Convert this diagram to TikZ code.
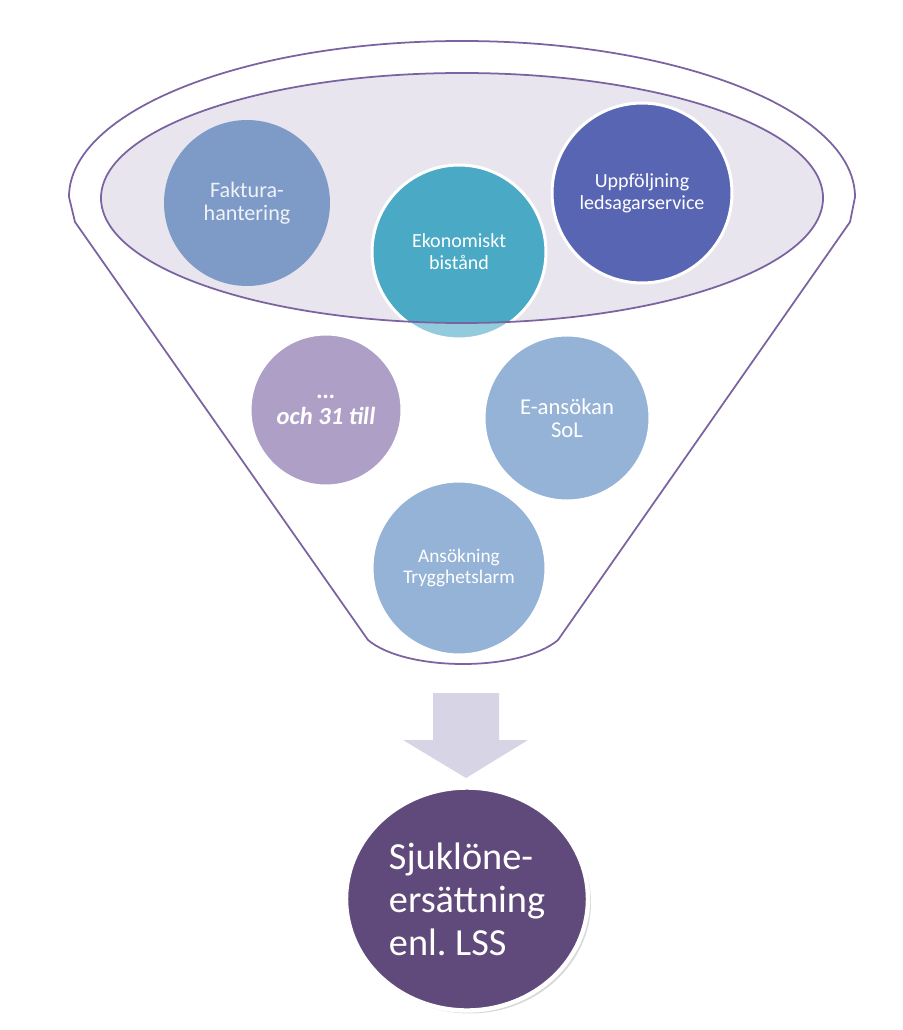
\documentclass[tikz,border=0pt]{standalone}
\usepackage{fontspec}
\setmainfont{Carlito}
\usetikzlibrary{shapes.geometric,shadows}
\definecolor{rimline}{HTML}{7A63A0}
\definecolor{rimfill}{HTML}{E8E5EE}
\definecolor{fakblue}{HTML}{7E9BC8}
\definecolor{ekoteal}{HTML}{4AAAC5}
\definecolor{uppblue}{HTML}{5865B3}
\definecolor{ochlilac}{HTML}{AE9FC7}
\definecolor{ansblue}{HTML}{95B3D7}
\definecolor{arrowgrey}{HTML}{D6D4E5}
\definecolor{lssviolet}{HTML}{604A7B}
\begin{document}
\begin{tikzpicture}[x=0.02cm, y=-0.02cm,
    bubble/.style={circle, draw=white, line width=1.7pt, text=white, align=center,
      inner sep=0pt, font=\fontsize{11.4}{12.5}\selectfont},
    rim/.style={draw=rimline, line width=1pt}]
  \useasboundingbox (0,0) rectangle (902,1030);
  % Draw the inner opening of the funnel
  \fill[rimfill] (462,198) ellipse[x radius=361, y radius=125];
  % Draw the funnel body
  \draw[rim] (75,222) -- (69,197) arc[start angle=180, end angle=360, x radius=393, y radius=156]
    -- (850,222) -- (558,640) .. controls (520,672) and (406,672) .. (368,640) -- cycle;
  % Place the circles
  \node[bubble, draw=none, fill=fakblue, text=white!88!fakblue, minimum size=3.32cm,
    font=\fontsize{12.6}{13.2}\selectfont] (fak) at (247,203) {Faktura-\\hantering};
  \node[bubble, fill=ekoteal, minimum size=3.48cm] (eko) at (459,252) {Ekonomiskt\\bistånd};
  \node[bubble, fill=uppblue, minimum size=3.6cm] (upp) at (642,193) {Uppföljning\\ledsagarservice};
  \node[bubble, fill=ochlilac, minimum size=3.04cm, font=\fontsize{14}{15}\selectfont\bfseries\itshape] (och) at (326,410) {…\\och 31 till};
  \node[bubble, fill=ansblue, minimum size=3.32cm, font=\fontsize{12.9}{13.2}\selectfont] (eso) at (567,418) {E-ansökan\\SoL};
  \node[bubble, fill=ansblue, minimum size=3.48cm, font=\fontsize{11}{12}\selectfont] (trg) at (459,568) {Ansökning\\Trygghetslarm};
  % Lighten the part that sticks out of the opening
  \begin{scope}
    \clip (eko.center) circle[radius=86];
    \fill[white, opacity=0.4, even odd rule] (0,0) rectangle (902,1030)
      (462,198) ellipse[x radius=361, y radius=125];
  \end{scope}
  \draw[rim] (462,198) ellipse[x radius=361, y radius=125];
  % Draw the arrow
  \fill[arrowgrey] (433,693) -- (499,693) -- (499,740) -- (528,740) -- (466,778)
    -- (403,740) -- (433,740) -- cycle;
  % Place the result
  \node[ellipse, draw=white, line width=2.5pt, fill=lssviolet, text=white, align=left,
    minimum width=4.84cm, minimum height=4.46cm, inner sep=0pt,
    drop shadow={opacity=0.3, shadow xshift=0.06cm, shadow yshift=-0.06cm},
    font=\fontsize{21.8}{24.5}\selectfont] (lss) at (467,899) {Sjuklöne-\\ersättning\\enl.\ LSS};
\end{tikzpicture}
\end{document}
